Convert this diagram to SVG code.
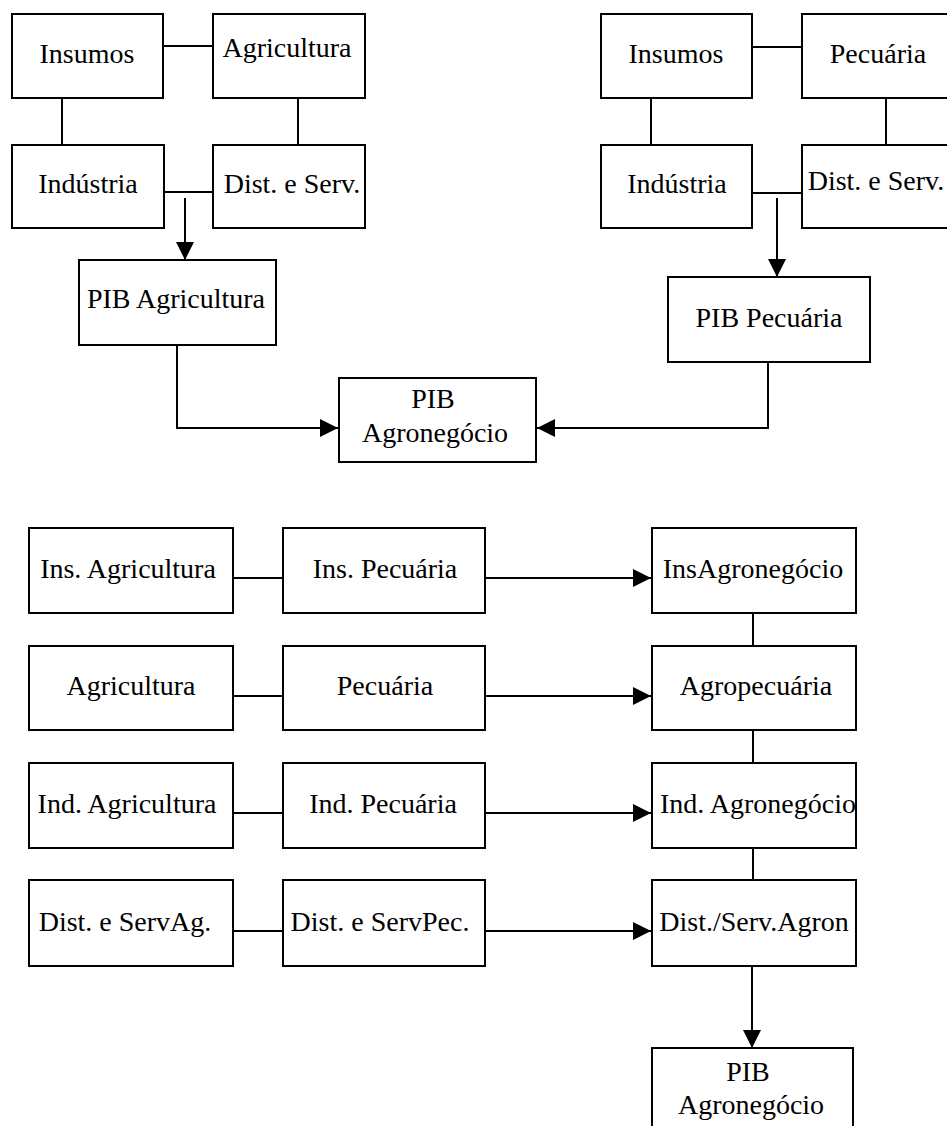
<svg xmlns="http://www.w3.org/2000/svg" width="947" height="1126" viewBox="0 0 947 1126">
<defs>
<marker id="ah" markerUnits="userSpaceOnUse" markerWidth="18" markerHeight="18" refX="17" refY="8.5" orient="auto" viewBox="0 0 17 17">
<path d="M0,0 L17,8.5 L0,17 Z" fill="#000"/>
</marker>
<style>
.box{fill:#fff;stroke:#000;stroke-width:2}
.t{font-family:"Liberation Serif","Times New Roman","DejaVu Serif",serif;font-size:28px;fill:#000;text-anchor:middle}
.c{fill:none;stroke:#000;stroke-width:2}
.a{fill:none;stroke:#000;stroke-width:2;marker-end:url(#ah)}
</style>
</defs>
<rect width="947" height="1126" fill="#fff"/>
<g id="connectors">
<line class="c" x1="163" y1="46" x2="213" y2="46"/>
<line class="c" x1="62" y1="98" x2="62" y2="145"/>
<line class="c" x1="298" y1="98" x2="298" y2="145"/>
<line class="c" x1="164" y1="192" x2="213" y2="192"/>
<line class="a" x1="185" y1="198" x2="185" y2="260"/>
<polyline class="a" points="177,345 177,428 338,428"/>
<line class="c" x1="752" y1="47" x2="802" y2="47"/>
<line class="c" x1="651" y1="98" x2="651" y2="145"/>
<line class="c" x1="886" y1="98" x2="886" y2="145"/>
<line class="c" x1="752" y1="193" x2="802" y2="193"/>
<line class="a" x1="777" y1="198" x2="777" y2="277"/>
<polyline class="a" points="768,362 768,428 537,428"/>
<line class="c" x1="233" y1="578" x2="283" y2="578"/>
<line class="a" x1="485" y1="578" x2="651" y2="578"/>
<line class="c" x1="233" y1="696" x2="283" y2="696"/>
<line class="a" x1="485" y1="696" x2="651" y2="696"/>
<line class="c" x1="233" y1="813" x2="283" y2="813"/>
<line class="a" x1="485" y1="813" x2="651" y2="813"/>
<line class="c" x1="233" y1="931" x2="283" y2="931"/>
<line class="a" x1="485" y1="931" x2="651" y2="931"/>
<line class="c" x1="753" y1="613" x2="753" y2="646"/>
<line class="c" x1="753" y1="730" x2="753" y2="763"/>
<line class="c" x1="753" y1="848" x2="753" y2="880"/>
<line class="a" x1="752" y1="966" x2="752" y2="1048"/>
</g>
<g id="n-insumos-a"><rect class="box" x="12" y="14" width="151" height="84"/><text class="t" x="87" y="63">Insumos</text></g>
<g id="n-agricultura"><rect class="box" x="213" y="14" width="152" height="84"/><text class="t" x="287" y="57">Agricultura</text></g>
<g id="n-industria-a"><rect class="box" x="12" y="145" width="152" height="83"/><text class="t" x="88" y="193">Indústria</text></g>
<g id="n-dist-a"><rect class="box" x="213" y="145" width="152" height="83"/><text class="t" x="292" y="193">Dist. e Serv.</text></g>
<g id="n-pib-agr"><rect class="box" x="79" y="260" width="197" height="85"/><text class="t" x="176" y="308">PIB Agricultura</text></g>
<g id="n-pib-agro"><rect class="box" x="339" y="378" width="197" height="84"/><text class="t" x="433" y="408">PIB</text><text class="t" x="435" y="442">Agronegócio</text></g>
<g id="n-insumos-p"><rect class="box" x="601" y="14" width="151" height="84"/><text class="t" x="676" y="63">Insumos</text></g>
<g id="n-pecuaria"><rect class="box" x="802" y="14" width="152" height="84"/><text class="t" x="878" y="63">Pecuária</text></g>
<g id="n-industria-p"><rect class="box" x="601" y="145" width="151" height="83"/><text class="t" x="677" y="193">Indústria</text></g>
<g id="n-dist-p"><rect class="box" x="802" y="145" width="152" height="83"/><text class="t" x="876" y="190">Dist. e Serv.</text></g>
<g id="n-pib-pec"><rect class="box" x="668" y="277" width="202" height="85"/><text class="t" x="769" y="327">PIB Pecuária</text></g>
<g id="n-ins-agr"><rect class="box" x="29" y="528" width="204" height="85"/><text class="t" x="128" y="578">Ins. Agricultura</text></g>
<g id="n-ins-pec"><rect class="box" x="283" y="528" width="202" height="85"/><text class="t" x="385" y="578">Ins. Pecuária</text></g>
<g id="n-ins-agro"><rect class="box" x="652" y="528" width="204" height="85"/><text class="t" x="753" y="578">InsAgronegócio</text></g>
<g id="n-agr2"><rect class="box" x="29" y="646" width="204" height="84"/><text class="t" x="131" y="695">Agricultura</text></g>
<g id="n-pec2"><rect class="box" x="283" y="646" width="202" height="84"/><text class="t" x="385" y="695">Pecuária</text></g>
<g id="n-agropec"><rect class="box" x="652" y="646" width="204" height="84"/><text class="t" x="756" y="695">Agropecuária</text></g>
<g id="n-ind-agr"><rect class="box" x="29" y="763" width="204" height="85"/><text class="t" x="127" y="813">Ind. Agricultura</text></g>
<g id="n-ind-pec"><rect class="box" x="283" y="763" width="202" height="85"/><text class="t" x="383" y="813">Ind. Pecuária</text></g>
<g id="n-ind-agro"><rect class="box" x="652" y="763" width="204" height="85"/><text class="t" x="758" y="813">Ind. Agronegócio</text></g>
<g id="n-dist-agr"><rect class="box" x="29" y="880" width="204" height="86"/><text class="t" x="125" y="931">Dist. e ServAg.</text></g>
<g id="n-dist-pec"><rect class="box" x="283" y="880" width="202" height="86"/><text class="t" x="380" y="931">Dist. e ServPec.</text></g>
<g id="n-dist-agro"><rect class="box" x="652" y="880" width="204" height="86"/><text class="t" x="754" y="931">Dist./Serv.Agron</text></g>
<g id="n-pib-agro2"><rect class="box" x="652" y="1048" width="201" height="86"/><text class="t" x="748" y="1081">PIB</text><text class="t" x="751" y="1114">Agronegócio</text></g>
</svg>
